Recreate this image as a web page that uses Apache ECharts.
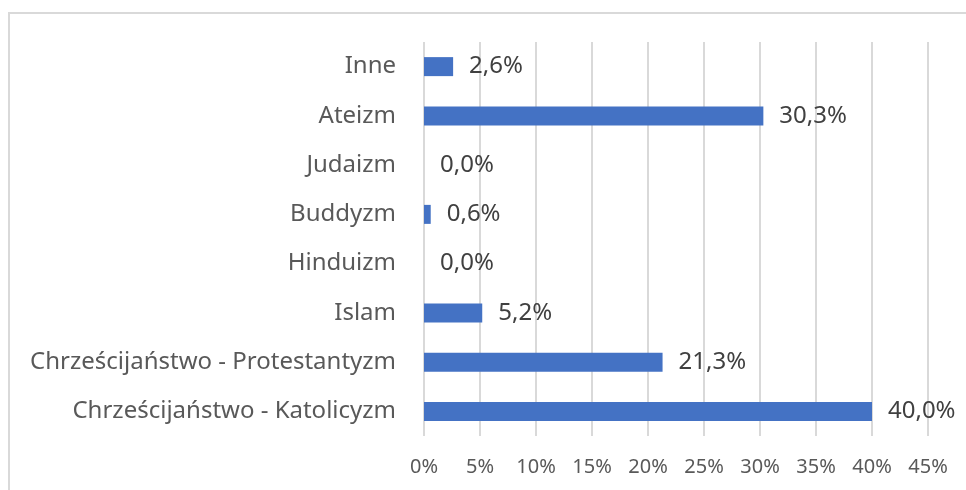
<!DOCTYPE html>
<html>
<head>
<meta charset="utf-8">
<script src="https://cdn.jsdelivr.net/npm/echarts@6/dist/echarts.min.js"></script>
<style>
  html, body { margin: 0; padding: 0; background: #fff; }
  #chart { width: 966px; height: 490px; }
</style>
</head>
<body>
<div id="chart"></div>
<script>
// kategorie od dołu do góry
const categories = [
  'Chrześcijaństwo - Katolicyzm',
  'Chrześcijaństwo - Protestantyzm',
  'Islam',
  'Hinduizm',
  'Buddyzm',
  'Judaizm',
  'Ateizm',
  'Inne'
];
const values = [40.0, 21.3, 5.2, 0.0, 0.6, 0.0, 30.3, 2.6];
const xTicks = [0, 5, 10, 15, 20, 25, 30, 35, 40, 45];

const font = '"Segoe UI", "Noto Sans", "Open Sans", sans-serif';
const chart = echarts.init(document.getElementById('chart'));
chart.setOption({
  animation: false,
  // ramka wykresu
  graphic: [{
    type: 'rect',
    shape: { x: 9, y: 13, width: 980, height: 500 },
    style: { fill: 'none', stroke: '#d9d9d9', lineWidth: 2 }
  }],
  grid: { left: 424, right: 38, top: 42, bottom: 54 },
  xAxis: {
    type: 'value',
    min: xTicks[0],
    max: xTicks[xTicks.length - 1],
    interval: 5,
    axisLine: { show: false },
    axisTick: { show: false },
    splitLine: { lineStyle: { color: '#d9d9d9', width: 2 } },
    axisLabel: {
      formatter: v => v + '%',
      color: '#595959',
      fontSize: 20,
      fontFamily: font,
      margin: 21
    }
  },
  yAxis: {
    type: 'category',
    data: categories,
    axisLine: { show: false },
    axisTick: { show: false },
    axisLabel: {
      color: '#595959',
      fontSize: 24,
      fontFamily: font,
      margin: 28
    }
  },
  series: [{
    type: 'bar',
    data: values,
    barWidth: 19,
    itemStyle: { color: '#4472c4' },
    label: {
      show: true,
      position: 'right',
      distance: 16,
      color: '#404040',
      fontSize: 24,
      fontFamily: font,
      formatter: p => p.value.toFixed(1).replace('.', ',') + '%'
    }
  }]
});
</script>
</body>
</html>
